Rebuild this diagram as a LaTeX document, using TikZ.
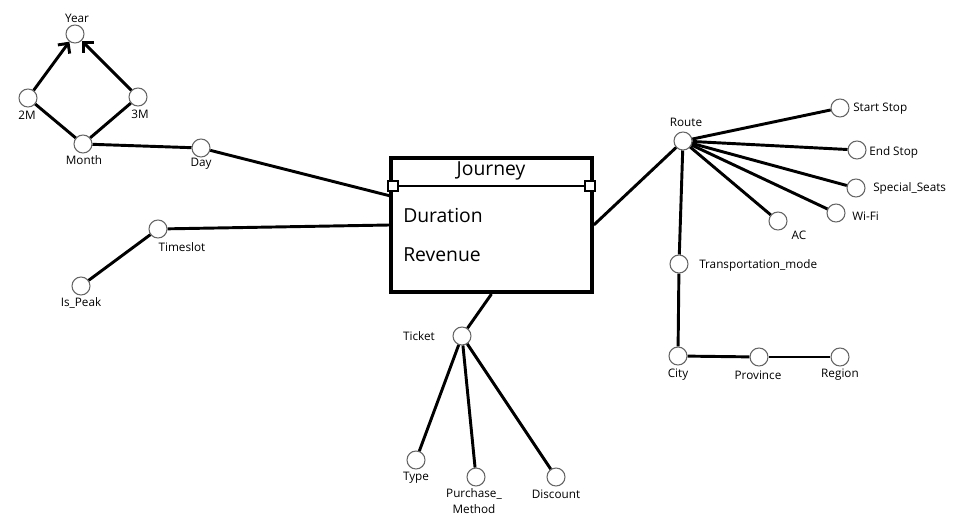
\documentclass[tikz,border=0pt]{standalone}
\usepackage{fontspec}
\setmainfont{Open Sans}
\usepackage{tikz}
\usetikzlibrary{positioning, arrows, arrows.meta}

\begin{document}
\begin{tikzpicture}[x=0.75pt, y=-0.75pt]
\tikzstyle{attr}=[circle, draw=black!60, line width=0.8pt, fill=white, minimum size=13.5pt, inner sep=0pt]
\tikzstyle{lbl}=[inner sep=0pt, font=\fontsize{8.8}{12}\selectfont]
\tikzstyle{link}=[black, line width=2.2pt]
\tikzstyle{corner}=[draw, line width=1.6pt, fill=white, minimum size=7.5pt, inner sep=0pt]
\useasboundingbox (0,0) rectangle (965,525);
% fact box
\node [draw, line width=3pt, minimum width=150.5pt, minimum height=100.5pt, inner sep=0pt] (journey) at (491.5,225) {};
\node [corner] (hdl) at (393,186) {};
\node [corner] (hdr) at (590,186) {};
\draw [black, line width=1.8pt] (hdl) -- (hdr);
\node [inner sep=0pt, font=\fontsize{14.5}{17}\selectfont] (jtitle) at (491,171) {Journey};
\node [inner sep=0pt, anchor=west, font=\fontsize{14.5}{17}\selectfont] (dur) at (403,215) {Duration};
\node [inner sep=0pt, anchor=west, font=\fontsize{14.5}{17}\selectfont] (rev) at (403,255) {Revenue};
% time dimension
\node [attr] (year) at (75,34) {};
\node [lbl] (yearl) at (77,18) {Year};
\node [attr] (twom) at (28,98) {};
\node [lbl] (twoml) at (27,115) {2M};
\node [attr] (threem) at (138,97) {};
\node [lbl] (threeml) at (140,114) {3M};
\node [attr] (month) at (83,144) {};
\node [lbl] (monthl) at (84,160) {Month};
\node [attr] (day) at (201,148) {};
\node [lbl] (dayl) at (201,164) {Day};
\draw [link, -{Straight Barb[length=5.5pt, width=11pt]}] (twom) -- (year);
\draw [link, -{Straight Barb[length=5.5pt, width=11pt]}] (threem) -- (year);
\draw [link] (month) -- (twom);
\draw [link] (month) -- (threem);
\draw [link] (month) -- (day);
\draw [link] (day) -- (journey.164);
% timeslot
\node [attr] (slot) at (158,229) {};
\node [lbl] (slotl) at (182,247) {Timeslot};
\node [attr] (peak) at (81,286) {};
\node [lbl] (peakl) at (81,303) {Is\_Peak};
\draw [link] (peak) -- (slot);
\draw [link] (slot) -- (journey.west);
% route
\node [attr] (route) at (683,141) {};
\node [lbl] (routel) at (686,122) {Route};
\node [attr] (start) at (840,108) {};
\node [lbl, anchor=west] (startl) at (853,109) {Start Stop};
\node [attr] (end) at (857,150) {};
\node [lbl, anchor=west] (endl) at (869,152) {End Stop};
\node [attr] (seats) at (856,188) {};
\node [lbl, anchor=west] (seatsl) at (873,188) {Special\_Seats};
\node [attr] (wifi) at (836,213) {};
\node [lbl, anchor=west] (wifil) at (852,216) {Wi-Fi};
\node [attr] (ac) at (778,221) {};
\node [lbl] (acl) at (799,235) {AC};
\node [attr] (mode) at (679,264) {};
\node [lbl, anchor=west] (model) at (699,265) {Transportation\_mode};
\node [attr] (city) at (678,356) {};
\node [lbl] (cityl) at (678,375) {City};
\node [attr] (prov) at (759,357) {};
\node [lbl] (provl) at (758,375) {Province};
\node [attr] (region) at (840,357) {};
\node [lbl] (regionl) at (840,375) {Region};
\draw [link] (journey.east) -- (route);
\draw [link] (route) -- (start);
\draw [link] (route) -- (end);
\draw [link] (route) -- (seats);
\draw [link] (route) -- (wifi);
\draw [link] (route) -- (ac);
\draw [link] (route) -- (mode);
\draw [link] (mode) -- (city);
\draw [link] (city) -- (prov);
\draw [link] (prov) -- (region);
% ticket
\node [attr] (ticket) at (462,336) {};
\node [lbl] (ticketl) at (419,336) {Ticket};
\node [attr] (type) at (416,460) {};
\node [lbl] (typel) at (416,478) {Type};
\node [attr] (method) at (476,477) {};
\node [lbl, align=center] (methodl) at (474,501) {Purchase\_\\Method};
\node [attr] (disc) at (556,477) {};
\node [lbl] (discl) at (556,494) {Discount};
\draw [link] (journey.south) -- (ticket);
\draw [link] (ticket) -- (type);
\draw [link] (ticket) -- (method);
\draw [link] (ticket) -- (disc);
\end{tikzpicture}
\end{document}
